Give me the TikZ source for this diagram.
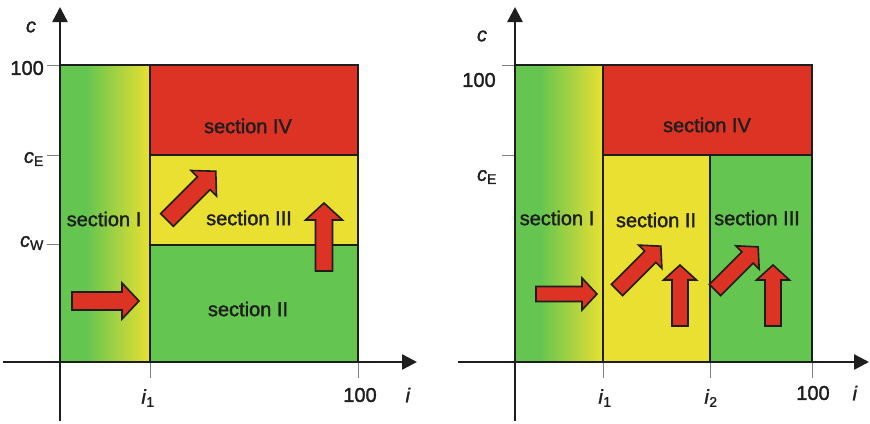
\documentclass[tikz,border=0pt]{standalone}
\usepackage{fontspec}
\setmainfont{Liberation Sans}[FakeBold=1.5]
\usetikzlibrary{arrows.meta}
\definecolor{secgreen}{RGB}{100,197,80}
\definecolor{secyellow}{RGB}{233,224,50}
\definecolor{secred}{RGB}{220,51,37}
\definecolor{ink}{RGB}{30,30,30}
\tikzstyle{axisline} = [draw=ink, line width=2.5pt, -{Triangle[length=15pt,width=15pt]}]
\tikzstyle{secborder} = [draw=ink, line width=2pt]
\tikzstyle{tickmark} = [draw=gray, line width=0.8pt]
\tikzstyle{blockfill} = [fill=secred, draw=ink, line width=1.6pt, line join=miter]
\tikzset{
  pics/blockarrow/.style n args={4}{code={
    \draw[blockfill] (0,-#2) -- ({#1-#4},-#2) -- ({#1-#4},-#3) -- (#1,0)
      -- ({#1-#4},#3) -- ({#1-#4},#2) -- (0,#2) -- cycle;
  }}
}

\begin{document}
\begin{tikzpicture}[x=1pt, y=-1pt,
  every node/.style={font=\fontsize{20}{24}\selectfont, text=ink, inner sep=0pt}]
  \useasboundingbox (0,0) rectangle (870,423);

  % Left diagram: sections
  \fill[secgreen] (60,65) rectangle (86,362);
  \shade[left color=secgreen, right color=secyellow] (86,65) rectangle (150,362);
  \fill[secred] (150,65) rectangle (358,155);
  \fill[secyellow] (150,155) rectangle (358,245);
  \fill[secgreen] (150,245) rectangle (358,362);
  \draw[secborder] (60,65) rectangle (358,362);
  \draw[secborder] (150,65) -- (150,362);
  \draw[secborder] (150,155) -- (358,155) (150,245) -- (358,245);

  % Left diagram: ticks and axes
  \draw[tickmark] (47,65) -- (60,65) (47,155) -- (60,155) (47,244) -- (60,244);
  \draw[tickmark] (150,362) -- (150,378) (358,362) -- (358,378);
  \draw[axisline] (60,421) -- (60,7);
  \draw[axisline] (3,362) -- (417,362);

  % Left diagram: axis labels
  \node (lc) at (31,27) {\textit{c}};
  \node[anchor=east] (l100) at (44,68) {100};
  \node[anchor=east] (lcE) at (44,159) {\textit{c}\textsubscript{E}};
  \node[anchor=east] (lcW) at (44,243) {\textit{c}\textsubscript{W}};
  \node (li1) at (148,398) {\textit{i}\textsubscript{1}};
  \node (lx100) at (360,395) {100};
  \node (li) at (408,395) {\textit{i}};

  % Left diagram: section names
  \node (lsecI) at (104,219) {section I};
  \node (lsecII) at (248,309) {section II};
  \node (lsecIII) at (249,218) {section III};
  \node (lsecIV) at (248,126) {section IV};

  % Left diagram: arrows
  \pic at (72,301) {blockarrow={67}{9}{18}{17}};
  \pic[rotate=45] at (167,220) {blockarrow={69}{9}{18}{17}};
  \pic[rotate=90] at (324,271) {blockarrow={68}{8.5}{18.5}{17}};

  % Right diagram: sections
  \fill[secgreen] (515,65) rectangle (540,362);
  \shade[left color=secgreen, right color=secyellow] (540,65) rectangle (603,362);
  \fill[secred] (603,65) rectangle (812,155);
  \fill[secyellow] (603,155) rectangle (710,362);
  \fill[secgreen] (710,155) rectangle (812,362);
  \draw[secborder] (515,65) rectangle (812,362);
  \draw[secborder] (603,65) -- (603,362);
  \draw[secborder] (603,155) -- (812,155) (710,155) -- (710,362);

  % Right diagram: ticks and axes
  \draw[tickmark] (502,65) -- (515,65) (502,155) -- (515,155);
  \draw[tickmark] (603,362) -- (603,378) (710,362) -- (710,378) (812,362) -- (812,378);
  \draw[axisline] (515,421) -- (515,7);
  \draw[axisline] (458,362) -- (869,362);

  % Right diagram: axis labels
  \node (rc) at (482,36) {\textit{c}};
  \node (r100) at (479,80) {100};
  \node (rcE) at (487,177) {\textit{c}\textsubscript{E}};
  \node (ri1) at (605,398) {\textit{i}\textsubscript{1}};
  \node (ri2) at (711,398) {\textit{i}\textsubscript{2}};
  \node (rx100) at (813,393) {100};
  \node (ri) at (855,393) {\textit{i}};

  % Right diagram: section names
  \node (rsecI) at (557,218) {section I};
  \node (rsecII) at (656,220) {section II};
  \node (rsecIII) at (757,218) {section III};
  \node (rsecIV) at (707,125) {section IV};

  % Right diagram: arrows
  \pic at (536,294) {blockarrow={61}{7.5}{16}{15}};
  \pic[rotate=45] at (617,290) {blockarrow={62}{8}{16.5}{15}};
  \pic[rotate=90] at (680,326) {blockarrow={61}{8}{16.5}{15}};
  \pic[rotate=45] at (715,290) {blockarrow={61}{8}{16.5}{15}};
  \pic[rotate=90] at (773,326) {blockarrow={61}{8}{16.5}{15}};
\end{tikzpicture}
\end{document}
